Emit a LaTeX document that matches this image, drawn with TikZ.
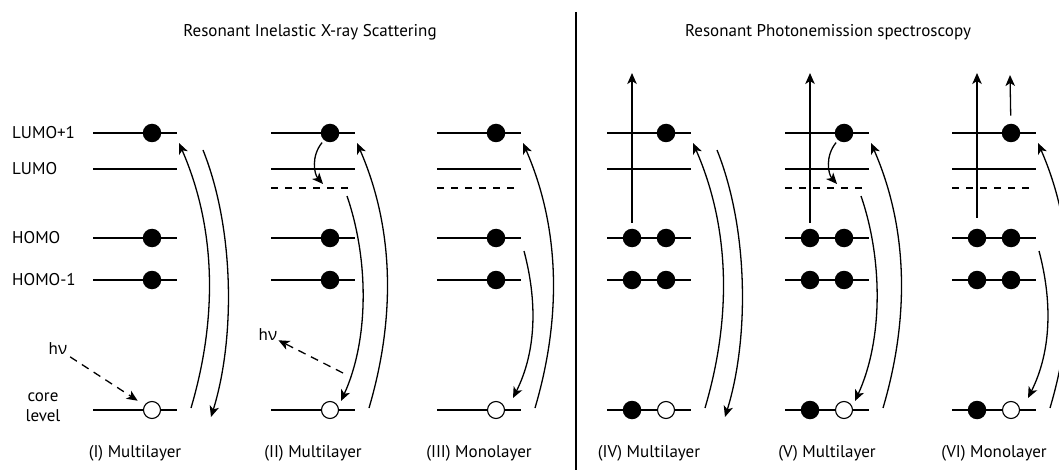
\documentclass[tikz,border=0pt]{standalone}
\usepackage{fontspec}
\setmainfont{PT Sans}
\newfontfamily\grk{Open Sans}
\usetikzlibrary{arrows.meta, positioning}

\begin{document}
\begin{tikzpicture}[
  x=1pt, y=-1pt,
  level/.style={line width=1.3pt},
  vacant/.style={line width=1.3pt, dash pattern=on 7pt off 7pt},
  elec/.style={circle, fill=black, inner sep=0pt, minimum size=18.5pt},
  hole/.style={circle, draw=black, fill=white, line width=1.1pt,
               inner sep=0pt, minimum size=17pt},
  arr/.style={-{Stealth[length=11pt, width=9.5pt, inset=3pt]}, line width=1.3pt},
  photon/.style={arr, dash pattern=on 8pt off 6pt},
  lbl/.style={font=\fontsize{17}{20}\selectfont, inner sep=1pt},
  ttl/.style={font=\fontsize{17}{20}\selectfont}
]
\useasboundingbox (0,0) rectangle (1059,470);

% headings and divider
\node[ttl] (rixs) at (310,32) {Resonant Inelastic X-ray Scattering};
\node[ttl] (rpes) at (828,32) {Resonant Photonemission spectroscopy};
\coordinate (div-t) at (576,12);
\coordinate (div-b) at (576,470);
\draw[level] (div-t) -- (div-b);

% level names
\node[lbl, anchor=west] (n-lumoA) at (11,133) {LUMO+1};
\node[lbl, anchor=west] (n-lumo)  at (11,169) {LUMO};
\node[lbl, anchor=west] (n-homo)  at (11,238) {HOMO};
\node[lbl, anchor=west] (n-homoB) at (11,280) {HOMO-1};
\node[lbl, align=center] (n-core) at (43,407) {core\\level};

% common part of every panel
\foreach \pn/\xo/\plab in {a/93/(I) Multilayer, b/271/(II) Multilayer,
    c/437/(III) Monolayer, d/607/(IV) Multilayer, e/785/(V) Multilayer,
    f/952/(VI) Monolayer} {
  \begin{scope}[xshift=\xo]
    \foreach \y in {133, 169, 238, 280, 410}
      \draw[level] (0,\y) -- (84,\y);
    \node[ttl] (\pn-cap) at (42,453) {\plab};
    \coordinate (\pn-up-s) at (98,408);
    \coordinate (\pn-up-e) at (86,143);
    \draw[arr] (\pn-up-s) .. controls (124,320) and (124,230) .. (\pn-up-e);
  \end{scope}
}

% dashed (relaxed) level
\foreach \xo in {271, 437, 785, 952}
  \draw[vacant] (\xo,188) -- (\xo+84,188);

% RIXS: one electron per level
\foreach \pn/\xo in {a/93, b/271, c/437} {
  \begin{scope}[xshift=\xo]
    \node[elec] (\pn-lumoA) at (59,133) {};
    \node[elec] (\pn-homo)  at (59,238) {};
    \node[elec] (\pn-homoB) at (59,280) {};
    \node[hole] (\pn-core)  at (59,410) {};
  \end{scope}
}

% RPES: paired electrons, photoelectron leaves upwards
\foreach \pn/\xo/\gap in {d/607/6pt, e/785/6pt, f/952/11pt} {
  \begin{scope}[xshift=\xo]
    \node[elec] (\pn-lumoA)  at (59,133) {};
    \node[elec] (\pn-homo1)  at (25,238) {};
    \node[elec] (\pn-homo2)  at (59,238) {};
    \node[elec] (\pn-homoB1) at (25,280) {};
    \node[elec] (\pn-homoB2) at (59,280) {};
    \node[elec] (\pn-core1)  at (25,410) {};
    \node[hole] (\pn-core2)  at (59,410) {};
    \coordinate (\pn-top) at (25,73);
    \draw[arr, shorten <=\gap] (\pn-homo1) -- (\pn-top);
  \end{scope}
}

% decay from LUMO+1 (multilayer)
\foreach \pn/\xo in {a/93, d/607} {
  \begin{scope}[xshift=\xo]
    \coordinate (\pn-dn-s) at (110,150);
    \coordinate (\pn-dn-e) at (118,417);
    \draw[arr] (\pn-dn-s) .. controls (142,230) and (142,340) .. (\pn-dn-e);
  \end{scope}
}

% hopping to the relaxed level, decay from there
\foreach \pn/\xo in {b/271, e/785} {
  \begin{scope}[xshift=\xo]
    \coordinate (\pn-hop) at (52,184);
    \draw[arr, shorten <=3pt] (\pn-lumoA) .. controls (40,156) and (43,174) .. (\pn-hop);
    \coordinate (\pn-dn-s) at (76,196);
    \coordinate (\pn-dn-e) at (70,401);
    \draw[arr] (\pn-dn-s) .. controls (98,260) and (98,340) .. (\pn-dn-e);
  \end{scope}
}

% decay from HOMO (monolayer)
\foreach \pn/\xo in {c/437, f/952} {
  \begin{scope}[xshift=\xo]
    \coordinate (\pn-dn-s) at (87,251);
    \coordinate (\pn-dn-e) at (76,398);
    \draw[arr] (\pn-dn-s) .. controls (100,300) and (100,350) .. (\pn-dn-e);
  \end{scope}
}

% second electron out of LUMO+1
\coordinate (f-out) at (1010,75);
\draw[arr, shorten <=8pt] (f-lumoA) -- (f-out);

% photons
\node[lbl] (hvA) at (58,349) {h{\grk ν}};
\draw[photon, shorten <=2pt, shorten >=8pt] (hvA) -- (a-core);
\node[lbl] (hvB) at (268,335) {h{\grk ν}};
\coordinate (b-hv-s) at (343,373);
\draw[photon] (b-hv-s) -- (hvB);
\end{tikzpicture}
\end{document}
